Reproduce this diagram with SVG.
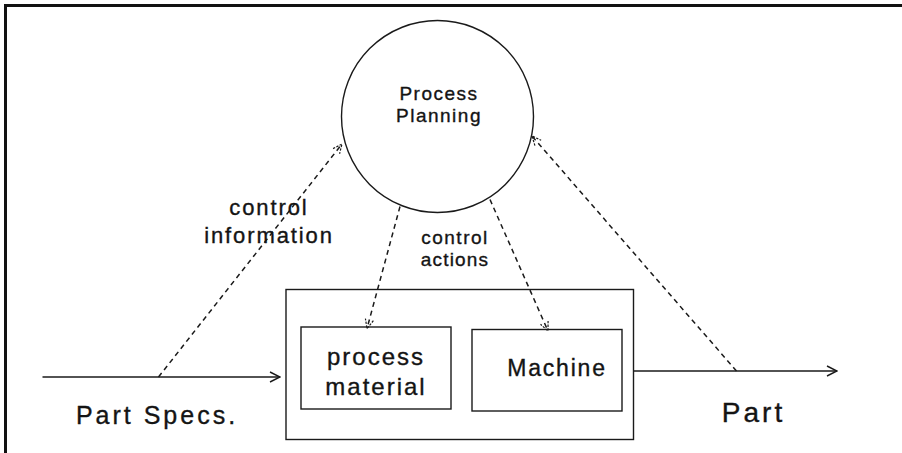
<svg xmlns="http://www.w3.org/2000/svg" width="902" height="453" viewBox="0 0 902 453">
  <style>
    .lbl { font-family: "Liberation Sans", Arial, sans-serif; fill: #141414; stroke: #141414; stroke-width: 0.35; text-anchor: middle; }
    .shape { fill: none; stroke: #1a1a1a; stroke-width: 1.4; }
    .flow { fill: none; stroke: #1a1a1a; stroke-width: 1.4; }
    .ctrl { fill: none; stroke: #1a1a1a; stroke-width: 1.5; stroke-dasharray: 5 4; }
    .frame { fill: none; stroke: #111; stroke-width: 3; }
  </style>
  <defs>
    <marker id="vhead" viewBox="0 0 12 12" refX="11" refY="6" markerWidth="12" markerHeight="12" markerUnits="userSpaceOnUse" orient="auto">
      <path d="M1,1 L11,6 L1,11" fill="none" stroke="#1a1a1a" stroke-width="1.4"/>
    </marker>
    <marker id="vhead-small" viewBox="0 0 12 12" refX="11" refY="6" markerWidth="11" markerHeight="11" markerUnits="userSpaceOnUse" orient="auto">
      <path d="M1,1.5 L11,6 L1,10.5" fill="none" stroke="#1a1a1a" stroke-width="1.3" stroke-dasharray="2.5 1.5"/>
    </marker>
  </defs>

  <rect width="902" height="453" fill="#fff"/>

  <!-- page frame: top and left rules only -->
  <path class="frame" d="M5.5,453 L5.5,5.5 L902,5.5"/>

  <g id="process-planning">
    <circle class="shape" cx="437.5" cy="116.5" r="96"/>
    <text class="lbl" x="439" y="99.5" font-size="19" letter-spacing="1.5">Process</text>
    <text class="lbl" x="439" y="122" font-size="19" letter-spacing="1.5">Planning</text>
  </g>

  <g id="cell">
    <rect class="shape" x="286" y="289.5" width="347.5" height="150"/>
  </g>

  <g id="process-material">
    <rect class="shape" x="301" y="327" width="150" height="82"/>
    <text class="lbl" x="376" y="365" font-size="24" letter-spacing="2">process</text>
    <text class="lbl" x="376" y="395" font-size="24" letter-spacing="2">material</text>
  </g>

  <g id="machine">
    <rect class="shape" x="472" y="329.5" width="150" height="81.5"/>
    <text class="lbl" x="557" y="375.5" font-size="23" letter-spacing="1.8">Machine</text>
  </g>

  <g id="part-specs">
    <text class="lbl" x="157" y="424" font-size="25" letter-spacing="3">Part Specs.</text>
  </g>

  <g id="part">
    <text class="lbl" x="753.5" y="421.5" font-size="28" letter-spacing="3">Part</text>
  </g>

  <g id="connectors">
    <!-- material flow -->
    <line class="flow" x1="42.5" y1="377" x2="280" y2="377" marker-end="url(#vhead)"/>
    <line class="flow" x1="634" y1="371" x2="837" y2="371" marker-end="url(#vhead)"/>
    <!-- control information fed back to planning -->
    <line class="ctrl" x1="158.5" y1="377" x2="342" y2="144" marker-end="url(#vhead-small)"/>
    <line class="ctrl" x1="736.5" y1="371" x2="532" y2="136" marker-end="url(#vhead-small)"/>
    <!-- control actions sent down -->
    <line class="ctrl" x1="400" y1="206.5" x2="367" y2="328.5" marker-end="url(#vhead-small)"/>
    <line class="ctrl" x1="490" y1="199.5" x2="548" y2="331" marker-end="url(#vhead-small)"/>
  </g>

  <g id="annotations">
    <text class="lbl" x="269" y="215" font-size="22" letter-spacing="1.9">control</text>
    <text class="lbl" x="269" y="242.5" font-size="22" letter-spacing="1.9">information</text>
    <text class="lbl" x="455" y="244" font-size="19" letter-spacing="1.5">control</text>
    <text class="lbl" x="455" y="266" font-size="19" letter-spacing="1.2">actions</text>
  </g>
</svg>
